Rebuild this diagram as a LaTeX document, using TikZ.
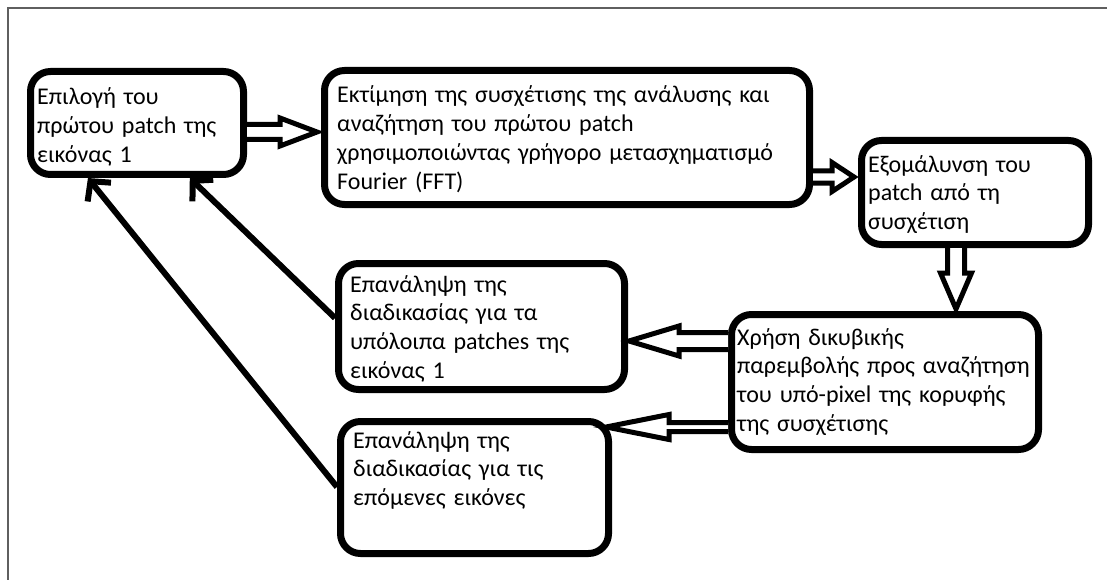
\documentclass[tikz,border=0pt]{standalone}
\usepackage{fontspec}
\setmainfont{Carlito}[WordSpace=1.45]
\usetikzlibrary{calc,arrows.meta}
\definecolor{framegray}{RGB}{95,95,95}
\newcommand{\blockarrow}[5]{% #1 start, #2 tip, #3 shaft half, #4 head half, #5 head length
  \coordinate (ba-s) at #1;
  \coordinate (ba-t) at #2;
  \coordinate (ba-b) at ($(ba-t)!#5!(ba-s)$);
  \draw[blockarr] ($(ba-s)!#3!90:(ba-t)$) -- ($(ba-b)!#3!-90:(ba-s)$) -- ($(ba-b)!#4!-90:(ba-s)$) -- (ba-t)
     -- ($(ba-b)!#4!90:(ba-s)$) -- ($(ba-b)!#3!90:(ba-s)$) -- ($(ba-s)!#3!-90:(ba-t)$);
}
\tikzset{
  box/.style={draw=black, line width=7pt, rounded corners=20pt, inner sep=0pt, fill=white, anchor=north west},
  txt/.style={inner sep=0pt, anchor=base west, font=\fontsize{24pt}{28.8pt}\selectfont, text=black},
  blockarr/.style={draw=black, fill=white, line width=5pt, line join=miter},
  linearr/.style={draw=black, line width=6pt, -{Straight Barb[length=14pt,width=30pt]}},
}
\newcommand{\lines}[1]{\vtop{\baselineskip=28.8pt #1}}
\begin{document}
\begin{tikzpicture}[x=1pt,y=-1pt]
\useasboundingbox (0,0) rectangle (1107,580);
\fill[white] (0,0) rectangle (1107,580);
\draw[draw=framegray, line width=2pt] (8,580) -- (8,8) -- (1107,8);

% boxes
\node[box, minimum width=213pt, minimum height=103pt] (A) at (27,68) {};
\node[box, minimum width=485pt, minimum height=134pt] (B) at (321,67) {};
\node[box, minimum width=227pt, minimum height=104pt] (C) at (858,137) {};
\node[box, minimum width=307pt, minimum height=135pt] (D) at (728,311) {};
\node[box, minimum width=286pt, minimum height=126pt] (E) at (335,260) {};
\node[box, minimum width=268pt, minimum height=132pt] (F) at (337,418) {};

% texts
\node[txt] (At) at ($(A.north west)+(10,37)$) {\lines{\hbox{Επιλογή του}\hbox{πρώτου patch της}\hbox{εικόνας 1}}};
\node[txt] (Bt) at ($(B.north west)+(16,36)$) {\lines{\hbox{Εκτίμηση της συσχέτισης της ανάλυσης και}\hbox{αναζήτηση του πρώτου patch}\hbox{χρησιμοποιώντας γρήγορο μετασχηματισμό}\hbox{Fourier (FFT)}}};
\node[txt] (Ct) at ($(C.north west)+(10,35)$) {\lines{\hbox{Εξομάλυνση του}\hbox{patch από τη}\hbox{συσχέτιση}}};
\node[txt] (Dt) at ($(D.north west)+(9,34)$) {\lines{\hbox{Χρήση δικυβικής}\hbox{παρεμβολής προς αναζήτηση}\hbox{του υπό-pixel της κορυφής}\hbox{της συσχέτισης}}};
\node[txt] (Et) at ($(E.north west)+(15,32)$) {\lines{\hbox{Επανάληψη της}\hbox{διαδικασίας για τα}\hbox{υπόλοιπα patches της}\hbox{εικόνας 1}}};
\node[txt] (Ft) at ($(F.north west)+(16,30)$) {\lines{\hbox{Επανάληψη της}\hbox{διαδικασίας για τις}\hbox{επόμενες εικόνες}}};

% block arrows
\blockarrow{($(A.east)+(0,9)$)}{($(B.west |- A.east)+(-4,9)$)}{7.5pt}{14pt}{37pt}
\blockarrow{($(B.east)+(0,39.5)$)}{($(C.west |- B.east)+(-4,39.5)$)}{6pt}{14.5pt}{22pt}
\blockarrow{($(C.south)+(-19,0)$)}{($(D.north -| C.south)+(-19,-2)$)}{8.5pt}{15.5pt}{36pt}
\blockarrow{($(D.west)+(0,-41)$)}{($(E.east |- D.west)+(1,-41)$)}{8.5pt}{15pt}{50pt}
\blockarrow{($(D.west)+(0,45)$)}{($(F.east |- D.west)+(-6,45)$)}{4.5pt}{12.5pt}{63pt}

% line arrows
\draw[linearr] ($(E.west)+(0,-8.5)$) -- ($(A.south west)!0.74!(A.south east)$);
\draw[linearr] ($(F.west)+(0,-0.5)$) -- ($(A.south west)!0.277!(A.south east)$);
\end{tikzpicture}
\end{document}
